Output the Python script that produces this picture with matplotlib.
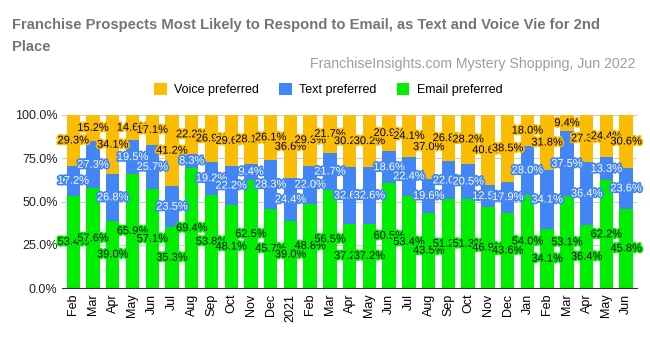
import matplotlib.pyplot as plt
import matplotlib.patheffects as pe
from matplotlib.ticker import FuncFormatter

plt.rcParams["font.family"] = ["Liberation Sans", "DejaVu Sans"]

months = ["Feb", "Mar", "Apr", "May", "Jun", "Jul", "Aug", "Sep", "Oct", "Nov", "Dec", "2021",
          "Feb", "Mar", "Apr", "May", "Jun", "Jul", "Aug", "Sep", "Oct", "Nov", "Dec", "Jan",
          "Feb", "Mar", "Apr", "May", "Jun"]
email = [53.4, 57.6, 39.0, 65.9, 57.1, 35.3, 69.4, 53.8, 48.1, 62.5, 45.7, 39.0,
         48.8, 56.5, 37.2, 37.2, 60.5, 53.4, 43.5, 51.2, 51.3, 46.9, 43.6, 54.0,
         34.1, 53.1, 36.4, 62.2, 45.8]
text = [17.2, 27.3, 26.8, 19.5, 25.7, 23.5, 8.3, 19.2, 22.2, 9.4, 28.3, 24.4,
        22.0, 21.7, 32.6, 32.6, 18.6, 22.4, 19.6, 22.0, 20.5, 12.5, 17.9, 28.0,
        34.1, 37.5, 36.4, 13.3, 23.6]
voice = [29.3, 15.2, 34.1, 14.6, 17.1, 41.2, 22.2, 26.9, 29.6, 28.1, 26.1, 36.6,
         29.3, 21.7, 30.2, 30.2, 20.9, 24.1, 37.0, 26.8, 28.2, 40.6, 38.5, 18.0,
         31.8, 9.4, 27.3, 24.4, 30.6]

c_email = "#00ee00"
c_text = "#4285f4"
c_voice = "#fbbc04"

fig = plt.figure(figsize=(6.5, 3.39), dpi=100)
ax = fig.add_axes([0.096, 0.150, 0.884, 0.511])

x = list(range(len(months)))
w = 0.68
ax.bar(x, email, w, color=c_email, label="Email preferred", zorder=2)
ax.bar(x, text, w, bottom=email, color=c_text, label="Text preferred", zorder=2)
bot2 = [e + t for e, t in zip(email, text)]
ax.bar(x, voice, w, bottom=bot2, color=c_voice, label="Voice preferred", zorder=2)

for i in x:
    ax.text(i, email[i] / 2, f"{email[i]:.1f}%", ha="center", va="center", fontsize=8,
            color="black", zorder=3,
            path_effects=[pe.withStroke(linewidth=2.5, foreground=c_email)])
    ax.text(i, email[i] + text[i] / 2, f"{text[i]:.1f}%", ha="center", va="center", fontsize=8,
            color="white", zorder=3,
            path_effects=[pe.withStroke(linewidth=2.5, foreground=c_text)])
    ax.text(i, bot2[i] + voice[i] / 2, f"{voice[i]:.1f}%", ha="center", va="center", fontsize=8,
            color="black", zorder=3,
            path_effects=[pe.withStroke(linewidth=2.5, foreground=c_voice)])

ax.set_xlim(-0.55, len(months) - 0.45)
ax.set_ylim(0, 100)
ax.set_yticks([0, 25, 50, 75, 100])
ax.yaxis.set_major_formatter(FuncFormatter(lambda v, p: f"{v:.1f}%"))
ax.set_xticks(x)
ax.set_xticklabels(months, rotation=90, fontsize=9)
ax.tick_params(axis="y", labelsize=9, length=0, colors="#222222")
ax.tick_params(axis="x", length=0, pad=4)
ax.grid(axis="y", color="#cccccc", linewidth=0.8, zorder=0)
for s in ["top", "right", "left"]:
    ax.spines[s].set_visible(False)
ax.spines["bottom"].set_color("#333333")

fig.text(0.018, 0.925, "Franchise Prospects Most Likely to Respond to Email, as Text and Voice Vie for 2nd",
         fontsize=10.6, fontweight="bold", color="#757575", va="center")
fig.text(0.018, 0.862, "Place", fontsize=10.6, fontweight="bold", color="#757575", va="center")
fig.text(0.978, 0.812, "FranchiseInsights.com Mystery Shopping, Jun 2022", fontsize=10.2,
         color="#9e9e9e", ha="right", va="center")

h, l = ax.get_legend_handles_labels()
fig.legend(h[::-1], l[::-1], loc="center", bbox_to_anchor=(0.505, 0.735), ncol=3, frameon=False,
           fontsize=9, handlelength=1.0, handleheight=1.0, columnspacing=1.6, handletextpad=0.6)

fig.savefig("out.png", dpi=100)
